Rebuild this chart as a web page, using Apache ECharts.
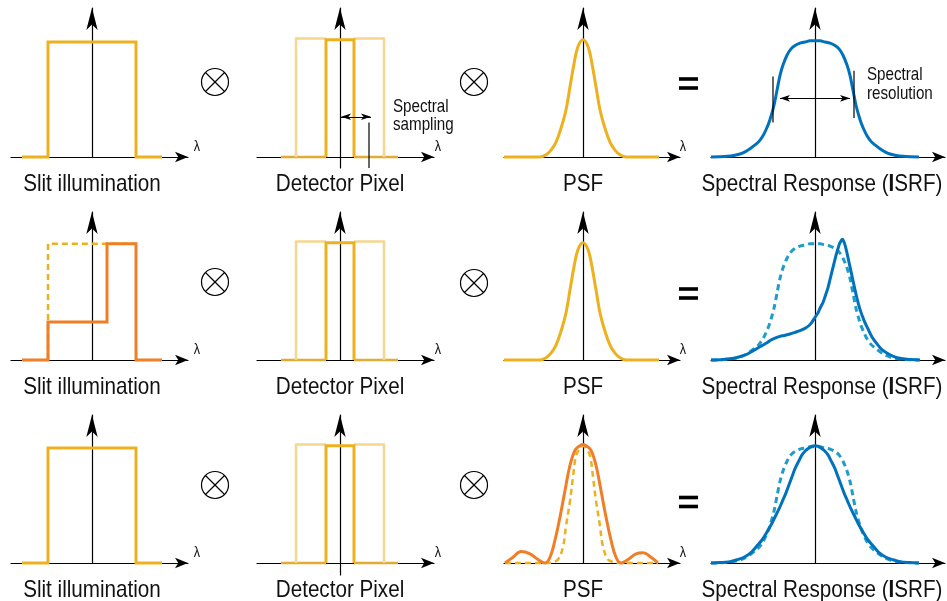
<!DOCTYPE html>
<html><head><meta charset="utf-8">
<script src="https://cdn.jsdelivr.net/npm/echarts@6/dist/echarts.min.js"></script>
<style>html,body{margin:0;padding:0;background:#fff}#c{width:947px;height:601px}</style>
</head><body><div id="c"></div>
<script>
// ---------- data (x: offset along lambda, y: normalised height) ----------
const panelTitles = ['Slit illumination', 'Detector Pixel', 'PSF', 'Spectral Response ({b|I}SRF)'];
const lambdaLabel = 'λ';

const slitX = [-70, -44, -44, 44, 44, 70];
const slitY = [0, 0, 1.0, 1.0, 0, 0];
const slitDashX = [-44, -44, 44];
const slitDashY = [0, 1.01, 1.01];
const slitStepX = [-70, -44, -44, 15, 15, 44, 44, 70];
const slitStepY = [0, 0, 0.33, 0.33, 1.01, 1.01, 0, 0];

const pixelX = [-14, -14, 14, 14];
const pixelY = [0, 1.02, 1.02, 0];
const pixelLeftX = [-14, -44, -44];
const pixelLeftY = [1.03, 1.03, 0];
const pixelRightX = [14, 44, 44];
const pixelRightY = [1.03, 1.03, 0];
const pixelBaseLX = [-59, -14];
const pixelBaseRX = [14, 58];
const pixelBaseY = [0, 0];
const samplingLineX = [29, 29];
const samplingLineY = [0.30, -0.095];
const samplingArrowX = [1, 31];
const samplingArrowY = 0.35;

const psfX = [-79, -43, -37, -32, -27, -22, -17, -13, -9, -5, 0, 5, 9, 13, 17, 22, 27, 32, 37, 43, 76];
const psfY = [0, 0, 0.02, 0.06, 0.13, 0.25, 0.41, 0.61, 0.81, 0.96, 1.02, 0.96, 0.81, 0.61, 0.41, 0.25, 0.13, 0.06, 0.02, 0, 0];
const psfNarrowX = [-78, -37, -30, -25, -20, -17, -13, -10, -7, -3, 0, 3, 7, 10, 13, 17, 20, 25, 30, 37, 75];
const psfNarrowY = [0, 0, 0.01, 0.03, 0.14, 0.32, 0.54, 0.75, 0.93, 1.0, 1.02, 1.0, 0.93, 0.75, 0.54, 0.32, 0.14, 0.03, 0.01, 0, 0];
const psfSincX = [-78, -70, -62, -53, -45, -38, -33, -28, -23, -18, -13, -8, -3, 0, 3, 8, 13, 18, 23, 28, 33, 38, 45, 53, 60, 68, 75];
const psfSincY = [0, 0.05, 0.10, 0.08, 0.03, 0, 0.05, 0.20, 0.40, 0.63, 0.85, 0.98, 1.02, 1.03, 1.02, 0.98, 0.85, 0.63, 0.40, 0.20, 0.05, 0, 0.03, 0.08, 0.09, 0.05, 0];

const isrfX = [-104, -96, -88, -80, -75, -70, -65, -60, -56, -52, -49, -46, -44, -41, -38, -35, -32, -28, -24, -20, -15, -10, -5, 0,
  5, 10, 15, 20, 24, 28, 32, 35, 38, 41, 44, 46, 49, 52, 56, 60, 65, 70, 75, 80, 88, 96, 104];
const isrfY = [0, 0.002, 0.006, 0.016, 0.026, 0.045, 0.072, 0.105, 0.136, 0.185, 0.237, 0.30, 0.354, 0.45, 0.58, 0.71, 0.80, 0.885, 0.94, 0.97, 0.99, 1.0, 1.01, 1.01,
  1.01, 1.0, 0.99, 0.97, 0.94, 0.885, 0.80, 0.71, 0.58, 0.45, 0.354, 0.30, 0.237, 0.185, 0.136, 0.105, 0.072, 0.045, 0.026, 0.016, 0.006, 0.002, 0];
const isrfSkewX = [-104, -92, -81, -75, -68, -63, -58, -53, -48, -44, -40, -35, -31, -25, -20, -15, -10, -6, -3, 0, 3, 5, 8, 10, 13, 15, 17, 19, 21, 23, 25, 27.5,
  30, 32, 34, 37, 40, 42, 45, 49, 53, 57, 62, 67, 74, 82, 92, 105];
const isrfSkewY = [0, 0.005, 0.015, 0.029, 0.05, 0.075, 0.10, 0.125, 0.15, 0.174, 0.19, 0.205, 0.213, 0.226, 0.24, 0.255, 0.275, 0.30, 0.33, 0.37, 0.41, 0.45, 0.50, 0.55, 0.63, 0.70, 0.77, 0.84, 0.91, 0.97, 1.02, 1.05,
  1.0, 0.93, 0.85, 0.73, 0.61, 0.535, 0.44, 0.345, 0.27, 0.20, 0.14, 0.09, 0.05, 0.02, 0.006, 0];
const isrfGaussX = [-104, -95, -85, -78, -71, -64, -58, -53, -48, -44, -40, -36, -33, -29, -26, -23, -20, -16, -13, -9, -6, -3, 0,
  3, 6, 9, 13, 16, 20, 23, 26, 29, 33, 36, 40, 44, 48, 53, 58, 64, 71, 78, 85, 95, 104];
const isrfGaussY = [0, 0.004, 0.012, 0.028, 0.05, 0.09, 0.15, 0.20, 0.27, 0.33, 0.40, 0.47, 0.53, 0.61, 0.68, 0.75, 0.82, 0.89, 0.94, 0.98, 1.0, 1.015, 1.02,
  1.015, 1.0, 0.98, 0.94, 0.89, 0.82, 0.75, 0.68, 0.61, 0.53, 0.47, 0.40, 0.33, 0.27, 0.20, 0.15, 0.09, 0.05, 0.028, 0.012, 0.004, 0];
const resLeftX = [-42, -42];
const resLeftY = [0.70, 0.30];
const resRightX = [39, 39];
const resRightY = [0.75, 0.34];
const resArrowX = [-35, 35];
const resArrowY = 0.51;

// ---------- layout ----------
const UNIT = 115;               // px per 1.0 of height
const cols = [
  { ax: 92, x0: 11, tip: 188 },
  { ax: 340, x0: 257, tip: 434 },
  { ax: 583, x0: 504, tip: 680 },
  { ax: 815, x0: 711, tip: 945 }
];
const rows = [{ ay: 157, tip: 8 }, { ay: 360, tip: 212 }, { ay: 563, tip: 415 }];
const below = [[0, 11, 0, 0], [0, 0, 0, 0], [0, 12, 0, 0]];
const XARROW = [8, 13], YARROW = [8.5, 22];

const YELLOW = '#EDB120', LIGHT = '#F6D68E', BASE = '#E0AC33', ORANGE = '#F07E26', BLUE = '#0072BD', CYAN = '#1E9CCA';
const FF = "'Liberation Sans', Arial, Helvetica, sans-serif";

const grids = [], xAxes = [], yAxes = [], series = [];
rows.forEach((r, ri) => cols.forEach((c, ci) => {
  const i = grids.length;
  const right = c.tip;
  const top = r.tip;
  const b = below[ri][ci];
  grids.push({ left: c.x0, top: top, width: right - c.x0, height: r.ay + b - top, containLabel: false });
  const axisCommon = { axisTick: { show: false }, axisLabel: { show: false }, splitLine: { show: false } };
  xAxes.push(Object.assign({ gridIndex: i, type: 'value', min: c.x0 - c.ax, max: right - c.ax,
    axisLine: { onZero: true, symbol: ['none', 'arrow'], symbolSize: XARROW, lineStyle: { color: '#000', width: 1.2 } } }, axisCommon));
  yAxes.push(Object.assign({ gridIndex: i, type: 'value', min: -b / UNIT, max: (r.ay - top) / UNIT,
    axisLine: { onZero: true, symbol: ['none', 'arrow'], symbolSize: YARROW, lineStyle: { color: '#000', width: 1.2 } } }, axisCommon));
}));

function pts(xs, ys) { return xs.map((x, k) => [x, Array.isArray(ys) ? ys[k] : ys]); }
function line(p, xs, ys, color, width, o) {
  o = o || {};
  const s = {
    type: 'line', xAxisIndex: p, yAxisIndex: p, data: pts(xs, ys), symbol: 'none', showSymbol: false,
    silent: true, animation: false, clip: false, z: o.z || 3,
    smooth: o.smooth || false,
    lineStyle: { color: color, width: width, type: o.dash || 'solid', join: o.join || 'miter', cap: 'butt' }
  };
  if (o.markLine) s.markLine = o.markLine;
  series.push(s);
}
function arrowMark(xs, y) {
  return { silent: true, animation: false, symbol: ['arrow', 'arrow'], symbolSize: [5, 10], label: { show: false },
    lineStyle: { color: '#000', width: 1, type: 'solid' }, emphasis: { disabled: true },
    data: [[{ coord: [xs[0], y] }, { coord: [xs[1], y] }]] };
}
function detector(p) {
  line(p, pixelBaseLX, pixelBaseY, BASE, 2.5);
  line(p, pixelBaseRX, pixelBaseY, BASE, 2.5);
  line(p, pixelLeftX, pixelLeftY, LIGHT, 2.5, { join: 'round' });
  line(p, pixelRightX, pixelRightY, LIGHT, 2.5, { join: 'round' });
  line(p, pixelX, pixelY, YELLOW, 3, { z: 4 });
}

// row 1
line(0, slitX, slitY, YELLOW, 3);
detector(1);
line(1, samplingLineX, samplingLineY, '#000', 1.2, { markLine: arrowMark(samplingArrowX, samplingArrowY) });
line(2, psfX, psfY, YELLOW, 3, { smooth: 0.4 });
line(3, isrfX, isrfY, BLUE, 3, { smooth: 0.3 });
line(3, resLeftX, resLeftY, '#000', 1.2, { markLine: arrowMark(resArrowX, resArrowY) });
line(3, resRightX, resRightY, '#000', 1.2);
// row 2
line(4, slitDashX, slitDashY, YELLOW, 2.5, { dash: [6, 4] });
line(4, slitStepX, slitStepY, ORANGE, 3, { z: 4 });
detector(5);
line(6, psfX, psfY, YELLOW, 3, { smooth: 0.4 });
line(7, isrfX, isrfY, CYAN, 3, { smooth: 0.3, dash: [6, 4] });
line(7, isrfSkewX, isrfSkewY, BLUE, 3, { smooth: 0.3, z: 4 });
// row 3
line(8, slitX, slitY, YELLOW, 3);
detector(9);
line(10, psfNarrowX, psfNarrowY, YELLOW, 2.5, { smooth: 0.4, dash: [6, 4] });
line(10, psfSincX, psfSincY, ORANGE, 3, { smooth: 0.4, z: 4 });
line(11, isrfX, isrfY, CYAN, 3, { smooth: 0.3, dash: [6, 4] });
line(11, isrfGaussX, isrfGaussY, BLUE, 3, { smooth: 0.3, z: 4 });

// ---------- texts & operators ----------
const graphics = [];
function txt(x, y, text, size, sx, align, rich) {
  const style = { text: text, fontSize: size, fontFamily: FF, fill: '#111',
    align: align || 'center', textAlign: align || 'center', verticalAlign: 'middle', textVerticalAlign: 'middle' };
  if (rich) style.rich = rich;
  graphics.push({ type: 'text', x: x, y: y, scaleX: sx, silent: true, z: 10, style: style });
}
const titleX = [92, 340, 583, 822];
const lambdaX = [197, 438, 683, 951];
const boldRich = { b: { fontWeight: 'bold', fontSize: 24, fontFamily: FF, fill: '#111' } };
rows.forEach((r) => {
  panelTitles.forEach((t, ci) => txt(titleX[ci], r.ay + 27, t, 24, 0.86, 'center', ci === 3 ? boldRich : null));
  lambdaX.forEach((lx) => txt(lx, r.ay - 10, lambdaLabel, 14, 0.9, 'center'));
});
txt(393, 106.5, 'Spectral', 18.5, 0.82, 'left');
txt(393, 124.5, 'sampling', 18.5, 0.82, 'left');
txt(867, 75, 'Spectral', 18.5, 0.82, 'left');
txt(867, 93.5, 'resolution', 18.5, 0.82, 'left');

const otimes = [[215, 82], [474, 82], [215, 282], [474, 283], [215, 485], [474, 485]];
otimes.forEach(([cx, cy]) => {
  const R = 13.5, d = R * 0.7071;
  graphics.push({ type: 'circle', silent: true, shape: { cx: cx, cy: cy, r: R }, style: { fill: 'none', stroke: '#000', lineWidth: 1.2 } });
  graphics.push({ type: 'line', silent: true, shape: { x1: cx - d, y1: cy - d, x2: cx + d, y2: cy + d }, style: { stroke: '#000', lineWidth: 1.2 } });
  graphics.push({ type: 'line', silent: true, shape: { x1: cx - d, y1: cy + d, x2: cx + d, y2: cy - d }, style: { stroke: '#000', lineWidth: 1.2 } });
});
const equals = [[688.5, 83.5], [688.5, 293.5], [688.5, 502]];
equals.forEach(([cx, cy]) => {
  [-4.5, 4.5].forEach((dy) => graphics.push({ type: 'rect', silent: true,
    shape: { x: cx - 9.5, y: cy + dy - 1.8, width: 19, height: 3.6 }, style: { fill: '#000' } }));
});

const chart = echarts.init(document.getElementById('c'), null, { renderer: 'canvas' });
chart.setOption({
  backgroundColor: '#fff',
  animation: false,
  grid: grids, xAxis: xAxes, yAxis: yAxes, series: series, graphic: graphics
});
</script></body></html>
